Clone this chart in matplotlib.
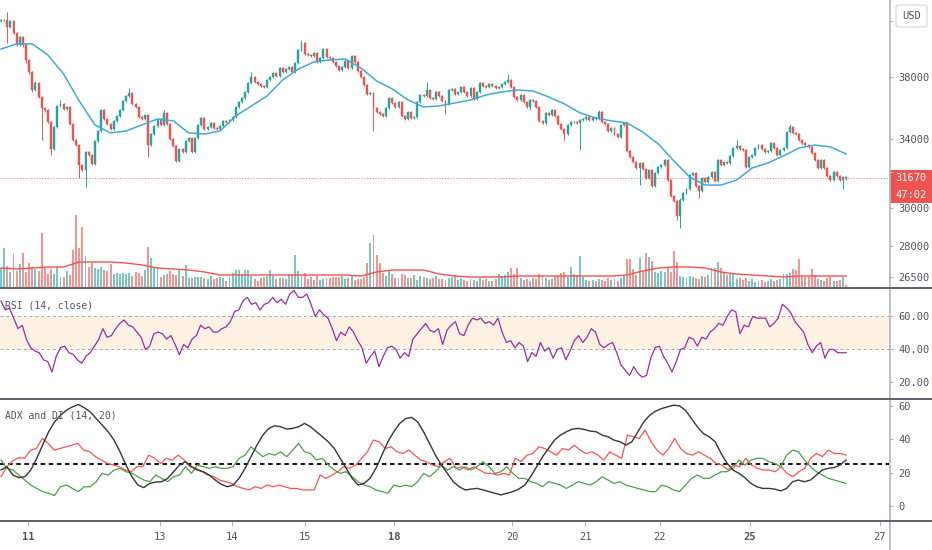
import matplotlib
matplotlib.use('Agg')
import matplotlib.pyplot as plt
import numpy as np
from matplotlib.lines import Line2D
from matplotlib.patches import Rectangle, FancyBboxPatch

plt.rcParams['font.family'] = ['DejaVu Sans Mono', 'DejaVu Sans']

# hourly candles
opens = [42030, 42110, 42110, 41580, 42030, 41140, 40255, 40840, 40255, 39180,
         38340, 37120, 37590, 36660, 35940, 35810, 35040, 33380, 34730, 36070,
         36200, 35870, 36000, 34920, 33920, 33616, 32430, 32140, 33200, 33020,
         32490, 33860, 34480, 35810, 35230, 34920, 34600, 35110, 35425, 35810,
         36395, 36720, 36920, 36200, 36000, 35360, 35230, 35490, 33616, 34290,
         34790, 35230, 34854, 35620, 34920, 33980, 33560, 32660, 33380, 33200,
         33860, 34045, 33200, 34045, 34854, 35300, 34600, 34730, 34980, 34670,
         34600, 34790, 35110, 35040, 35170, 35360, 36000, 36330, 36590, 36990,
         37590, 38000, 37660, 37520, 37390, 37320, 37795, 38000, 38275, 38070,
         38620, 38340, 38550, 38690, 38340, 38970, 39890, 40400, 39600, 39530,
         39460, 39670, 39040, 39320, 39960, 39390, 39320, 39040, 38760, 38480,
         38690, 39110, 38620, 39460, 39040, 38410, 38000, 37455, 36850, 36920,
         35940, 35680, 35550, 35425, 35940, 36590, 36260, 36000, 36330, 35425,
         35230, 35680, 35300, 35360, 36330, 36787, 36720, 37120, 36590, 36525,
         36990, 36720, 36395, 36200, 37120, 37190, 36850, 36990, 37320, 36990,
         36720, 37255, 36525, 36990, 37590, 37390, 37320, 37520, 37390, 37255,
         37320, 37520, 37660, 37795, 37320, 36655, 36460, 36787, 36330, 36000,
         36460, 36395, 36000, 35110, 34980, 35620, 35490, 35810, 35425, 34920,
         34600, 34290, 34854, 35040, 35040, 34980, 35170, 35230, 35360, 35170,
         35300, 35230, 35680, 35040, 34920, 34480, 34670, 34290, 34105, 34854,
         34980, 33260, 32900, 32605, 32255, 32545, 32200, 31675, 32140, 31220,
         31965, 32315, 32430, 32720, 31560, 30665, 30395, 29580, 30450, 30830,
         31055, 31850, 31965, 31220, 30945, 31675, 31450, 31735, 32025, 31505,
         32720, 32430, 32605, 32545, 32960, 33440, 33560, 33380, 33320, 32315,
         32900, 33020, 33440, 33616, 33380, 33200, 33260, 33740, 33440, 33020,
         33320, 33440, 34415, 34730, 34355, 34290, 33920, 33740, 33616, 33500,
         33140, 32720, 32255, 32720, 32255, 31790, 31560, 32025, 31790, 31560,
         31735]
highs = [42190, 42200, 42730, 42110, 42110, 41220, 40920, 40920, 40330, 39260,
         38420, 37700, 37670, 36740, 36020, 35890, 35120, 34810, 36150, 36460,
         36280, 36080, 36080, 35000, 34000, 33700, 32510, 33280, 33280, 33100,
         33940, 34560, 35890, 35890, 35310, 35000, 35190, 35500, 35890, 36470,
         36800, 37250, 37000, 36280, 36080, 35440, 35570, 35570, 34370, 34870,
         35310, 35310, 35810, 35700, 35000, 34060, 33640, 33460, 33460, 33940,
         34130, 34130, 34130, 34940, 35380, 35380, 34810, 35060, 35060, 34750,
         34870, 35190, 35190, 35250, 35440, 36080, 36410, 36670, 37070, 37670,
         38340, 38080, 37740, 37600, 37470, 37880, 38080, 38360, 38360, 38700,
         38700, 38630, 38770, 38770, 39050, 39970, 40620, 40480, 39680, 39610,
         39750, 39750, 39400, 40040, 40040, 39470, 39400, 39120, 38840, 38770,
         39190, 39190, 39540, 39540, 39120, 38490, 38080, 37530, 37000, 37000,
         36020, 35760, 35630, 36020, 36670, 36670, 36340, 36410, 36410, 35500,
         35760, 35760, 35440, 36410, 36870, 36870, 37660, 37200, 36670, 37070,
         37070, 36800, 36470, 37200, 37270, 37270, 37070, 37400, 37400, 37070,
         37340, 37340, 37070, 37670, 37670, 37470, 37600, 37600, 37470, 37400,
         37600, 37740, 38210, 37880, 37400, 36740, 36870, 36870, 36410, 36540,
         36540, 36470, 36080, 35190, 35700, 35700, 35890, 35890, 35500, 35000,
         34680, 34940, 35120, 35120, 35120, 35250, 35310, 35440, 35440, 35380,
         35380, 35810, 35760, 35120, 35000, 34750, 34750, 34370, 34940, 35060,
         35060, 33340, 32980, 32680, 32620, 32620, 32280, 32220, 32220, 32040,
         32390, 32510, 32800, 32800, 31640, 30740, 30470, 30530, 30900, 31130,
         31930, 32040, 32040, 31300, 31750, 31750, 31810, 32100, 32100, 32800,
         32800, 32680, 32680, 33040, 33520, 33920, 33640, 33460, 33400, 32980,
         33100, 33520, 33700, 33700, 33460, 33340, 33820, 33820, 33520, 33400,
         33520, 34500, 34920, 34810, 34440, 34370, 34000, 33820, 33700, 33580,
         33220, 32800, 32800, 32800, 32330, 31870, 32100, 32100, 31870, 31810,
         31810]
lows = [41950, 42030, 40400, 41500, 41060, 40180, 40180, 40100, 39000, 38200,
        37000, 37040, 36580, 33920, 35700, 34950, 33020, 33300, 34650, 35990,
        35790, 35790, 34840, 33840, 33540, 31675, 32060, 31165, 32940, 32410,
        32410, 33780, 34400, 35150, 34840, 34520, 34520, 35030, 35350, 35730,
        36310, 36640, 36120, 35920, 35280, 35150, 35150, 32900, 33540, 34210,
        34710, 34770, 34770, 34840, 33900, 33480, 32600, 32580, 33120, 33120,
        33780, 33120, 33120, 33970, 34770, 34520, 34520, 34650, 34590, 34520,
        34520, 34710, 34960, 34960, 35090, 35280, 35920, 36250, 36510, 36910,
        37510, 37580, 37440, 37310, 37240, 37240, 37710, 37920, 37990, 37990,
        38260, 38260, 38470, 38260, 38260, 38890, 39810, 39520, 39450, 39380,
        39380, 38960, 38960, 39240, 39310, 39240, 38960, 38680, 38400, 38400,
        38610, 38540, 38540, 38960, 38330, 37920, 37370, 36770, 36770, 34480,
        35600, 35470, 35350, 35350, 35860, 36180, 35920, 35920, 35350, 35150,
        35150, 35220, 35220, 35280, 36250, 36640, 36640, 36510, 36440, 36440,
        36640, 36310, 35550, 36120, 37040, 36770, 36770, 36910, 36910, 36640,
        36640, 36440, 36440, 36910, 37310, 37240, 37240, 37310, 37170, 37170,
        37240, 37440, 37580, 37240, 36570, 36380, 36380, 36250, 35920, 35810,
        36310, 35920, 35030, 34900, 34900, 35410, 35410, 35350, 34840, 34520,
        33920, 34210, 34770, 34960, 34900, 33320, 35090, 35150, 35090, 35090,
        35150, 35150, 34960, 34840, 34400, 34400, 34210, 34020, 34020, 34770,
        33180, 32820, 32520, 32170, 31277, 32120, 31600, 31600, 31140, 31140,
        31890, 32240, 32350, 31480, 30590, 30320, 29370, 28930, 30370, 30750,
        30980, 31770, 31140, 30560, 30870, 31370, 31370, 31660, 31430, 31430,
        32350, 32350, 32470, 32470, 32880, 33360, 33300, 33240, 32240, 32240,
        32820, 32940, 33360, 33300, 33120, 33120, 33180, 33360, 32940, 32940,
        33240, 33360, 34330, 34270, 34210, 33840, 33660, 33540, 33420, 33060,
        32640, 32170, 32170, 32170, 31710, 31480, 31480, 31710, 31480, 31060,
        31590]
closes = [42110, 42110, 41580, 42030, 41140, 40255, 40840, 40255, 39180, 38340,
          37120, 37590, 36660, 35940, 35810, 35040, 33380, 34730, 36070, 36200,
          35870, 36000, 34920, 33920, 33616, 32430, 32140, 33200, 33020, 32490,
          33860, 34480, 35810, 35230, 34920, 34600, 35110, 35425, 35810, 36395,
          36720, 36920, 36200, 36000, 35360, 35230, 35490, 33616, 34290, 34790,
          35230, 34854, 35620, 34920, 33980, 33560, 32660, 33380, 33200, 33860,
          34045, 33200, 34045, 34854, 35300, 34600, 34730, 34980, 34670, 34600,
          34790, 35110, 35040, 35170, 35360, 36000, 36330, 36590, 36990, 37590,
          38000, 37660, 37520, 37390, 37320, 37795, 38000, 38275, 38070, 38620,
          38340, 38550, 38690, 38340, 38970, 39890, 40400, 39600, 39530, 39460,
          39670, 39040, 39320, 39960, 39390, 39320, 39040, 38760, 38480, 38690,
          39110, 38620, 39460, 39040, 38410, 38000, 37455, 36850, 36920, 35940,
          35680, 35550, 35425, 35940, 36590, 36260, 36000, 36330, 35425, 35230,
          35680, 35300, 35360, 36330, 36787, 36720, 37120, 36590, 36525, 36990,
          36720, 36395, 36200, 37120, 37190, 36850, 36990, 37320, 36990, 36720,
          37255, 36525, 36990, 37590, 37390, 37320, 37520, 37390, 37255, 37320,
          37520, 37660, 37795, 37320, 36655, 36460, 36787, 36330, 36000, 36460,
          36395, 36000, 35110, 34980, 35620, 35490, 35810, 35425, 34920, 34600,
          34290, 34854, 35040, 35040, 34980, 35170, 35230, 35360, 35170, 35300,
          35230, 35680, 35040, 34920, 34480, 34670, 34290, 34105, 34854, 34980,
          33260, 32900, 32605, 32255, 32545, 32200, 31675, 32140, 31220, 31965,
          32315, 32430, 32720, 31560, 30665, 30395, 29580, 30450, 30830, 31055,
          31850, 31965, 31220, 30945, 31675, 31450, 31735, 32025, 31505, 32720,
          32430, 32605, 32545, 32960, 33440, 33560, 33380, 33320, 32315, 32900,
          33020, 33440, 33616, 33380, 33200, 33260, 33740, 33440, 33020, 33320,
          33440, 34415, 34730, 34355, 34290, 33920, 33740, 33616, 33500, 33140,
          32720, 32255, 32720, 32255, 31790, 31560, 32025, 31790, 31560, 31735,
          31670]
volumes = [190, 390, 210, 150, 330, 160, 230, 340, 150, 240,
           200, 180, 160, 540, 190, 130, 180, 130, 200, 100,
           100, 160, 120, 370, 720, 390, 600, 310, 200, 240,
           190, 180, 200, 170, 160, 230, 130, 140, 130, 140,
           130, 140, 110, 150, 140, 110, 170, 400, 290, 200,
           200, 100, 120, 130, 160, 130, 120, 170, 110, 220,
           90, 90, 100, 100, 100, 90, 80, 110, 80, 90,
           100, 90, 60, 100, 140, 170, 170, 130, 170, 170,
           110, 80, 60, 90, 100, 110, 170, 110, 80, 90,
           90, 80, 120, 130, 320, 160, 120, 140, 80, 100,
           70, 110, 70, 80, 90, 90, 100, 100, 100, 110,
           80, 90, 110, 70, 80, 80, 100, 240, 440, 520,
           320, 240, 140, 110, 170, 130, 90, 90, 130, 120,
           90, 90, 120, 70, 110, 100, 90, 80, 90, 110,
           80, 80, 70, 90, 100, 120, 70, 90, 70, 60,
           80, 70, 60, 90, 70, 80, 60, 60, 80, 130,
           110, 120, 150, 190, 130, 190, 90, 70, 80, 60,
           90, 80, 130, 120, 90, 70, 80, 100, 110, 140,
           150, 100, 200, 130, 120, 310, 100, 70, 60, 70,
           60, 80, 70, 60, 90, 70, 80, 60, 90, 110,
           280, 280, 180, 120, 290, 160, 340, 300, 260, 150,
           140, 160, 150, 190, 150, 360, 250, 110, 100, 90,
           110, 100, 90, 80, 110, 100, 120, 190, 190, 250,
           190, 140, 120, 130, 130, 80, 90, 70, 90, 60,
           80, 50, 60, 70, 50, 60, 80, 60, 70, 80,
           130, 130, 140, 180, 170, 280, 110, 100, 100, 180,
           120, 80, 70, 60, 90, 100, 60, 60, 70, 100,
           20]

# moving averages, read every 5th bar
vol_ma = [190, 180, 190, 200, 200, 250, 250, 250, 240, 220,
          190, 180, 170, 150, 120, 120, 120, 120, 120, 120,
          120, 120, 120, 110, 150, 170, 170, 170, 130, 110,
          100, 100, 100, 110, 110, 110, 110, 110, 110, 110,
          120, 160, 190, 200, 200, 190, 150, 130, 120, 110,
          100, 110, 110, 110, 110]
price_ma = [39960, 40330, 40330, 39530, 38205, 36395, 34854, 34355, 34480, 34854,
            35230, 35110, 34355, 34290, 34480, 35425, 36070, 36720, 37795, 38550,
            39040, 39180, 39250, 38620, 37725, 37190, 36460, 36000, 36070, 36260,
            36460, 36787, 36990, 37120, 37050, 36655, 36200, 35620, 35300, 35110,
            34980, 34415, 33680, 32660, 31735, 31277, 31277, 31560, 32255, 32545,
            32960, 33440, 33616, 33500, 33080]

rsi = [69.5, 64, 65, 59, 52.6, 54.7, 46, 41, 39, 38, 33.7, 32.6, 26.3, 35.8, 41, 42,
       38, 37, 33.7, 31.6, 35.8, 38, 42, 46, 52.6, 47.4, 48.4, 52.6, 55.8, 57.9, 54.7,
       53.7, 50.5, 47.4, 40, 42, 49.5, 50.5, 49.5, 46.3, 48.4, 43, 36.8, 43, 41, 46.3,
       48.4, 54.7, 52.6, 53.7, 50.5, 50.5, 52.6, 53.7, 56.8, 63, 64, 69.5, 71.6, 67.4,
       68.4, 64, 67.4, 68.4, 71.6, 68.4, 70.5, 67.4, 73.7, 75.8, 71.6, 71.6, 73.7, 67.4,
       60, 64, 61, 59, 52.6, 45.3, 50.5, 48.4, 53.7, 50.5, 45.3, 41, 31.6, 35.8, 39,
       29.5, 35.8, 41, 42, 40, 34.7, 38, 35.8, 46.3, 49.5, 52.6, 55.8, 51.6, 50.5, 52.6,
       43, 51.6, 54.7, 56.8, 49.5, 48.4, 54.7, 59, 57.9, 59, 55.8, 56.8, 54.7, 59, 50.5,
       44.2, 45.3, 41, 44.2, 42, 32.6, 38, 35.8, 44.2, 39, 41, 34.7, 40, 41, 33.7, 39,
       45.3, 48.4, 44.2, 47.4, 52.6, 50.5, 43, 41, 43, 44.2, 38, 30.5, 27.4, 24.2, 29.5,
       25.3, 23.2, 24.2, 34.7, 41, 42, 35.8, 31.6, 26.3, 32.6, 40, 41, 47.4, 46.3, 42,
       47.4, 46.3, 50.5, 52.6, 55.8, 54.7, 60, 64, 63, 49.5, 54.7, 53.7, 60, 59, 59, 59,
       53.7, 55.8, 59, 67.4, 65.3, 62, 56.8, 53.7, 50.5, 43, 38, 42, 44.2, 34.7, 40, 40,
       38, 38, 38]

adx = [21.5, 23.5, 18.5, 17, 17.5, 21.5, 28.5, 36.4, 44.4, 50.3, 54.3, 57.3, 59.3,
       60.7, 58.7, 56.3, 52.3, 48.4, 44.4, 39.4, 32.4, 24.5, 17.5, 12.5, 11, 13.5,
       14.3, 14.5, 16.5, 20.5, 24.5, 26.5, 23.5, 21.5, 20.5, 18.5, 15.5, 13, 11.5,
       12.5, 16.5, 22.5, 29.5, 36.4, 42.4, 46.4, 48, 47.4, 46, 46.4, 47.4, 49.4, 47.4,
       44.4, 41.4, 38.4, 34.4, 28.5, 22.5, 16.5, 12.5, 13.5, 16.5, 22.5, 30.4, 38.4,
       44.4, 49.4, 52.3, 53, 50.3, 44.4, 37.4, 30.4, 24.5, 19.5, 14.5, 11.5, 9.6, 10.1,
       10.5, 9.6, 8.6, 7.6, 6.6, 7.6, 8.6, 10.1, 12.5, 17.5, 23.5, 29.5, 34.4, 39.4,
       42.4, 44.4, 46, 46.4, 45.8, 44.8, 44.4, 42.4, 41.4, 39.4, 38.4, 36.4, 38.4, 44.4,
       50.3, 54.3, 56.7, 58.3, 59.3, 60.3, 59.9, 57.3, 52.3, 47.4, 43.4, 41.4, 38.4,
       31.4, 25.5, 21.5, 19.5, 16.9, 13.5, 11.5, 10.5, 10.5, 10.1, 9, 10.5, 14.5, 15.5,
       14.5, 15.5, 18.5, 21.5, 22.5, 23, 24.5, 27.5]
minus_di = [17.5, 23.5, 27, 28.9, 28.5, 33.4, 34.4, 40.4, 37.4, 33.4, 34.4, 35.4, 36.4,
            37.4, 33.4, 32.4, 29.5, 27.5, 25.5, 24.5, 23.5, 21.5, 20.5, 23.5, 23.5,
            30.4, 28.5, 25.5, 28.5, 27.5, 30.4, 27.5, 23.5, 22.5, 20.5, 18.5, 17.5,
            15.5, 14.5, 13.5, 11.5, 10.5, 9.6, 11.5, 10.5, 12.5, 11.5, 12.5, 11.5, 10.5,
            10.5, 9.6, 9.6, 9.6, 18.5, 16.5, 18.5, 20.5, 23.5, 22.5, 24.5, 28.5, 32.4,
            39.4, 38.4, 34.4, 35.4, 32.4, 31.4, 33.4, 30.4, 27.5, 26.5, 24.5, 23.5, 26.5,
            28.5, 22.5, 23.5, 21.5, 23.5, 21.5, 19.5, 19.5, 18.5, 19.5, 18.5, 28.5, 26.5,
            30.4, 31.4, 35.4, 34.4, 32.4, 30.4, 34.4, 33.4, 36.4, 33.4, 31.4, 32.4, 30.4,
            27.5, 32.4, 30.4, 28.5, 42.4, 41.4, 40.4, 45.4, 38.4, 33.4, 30.4, 34.4, 40.4,
            34.4, 31.4, 30.4, 32.4, 30.4, 28.5, 25.5, 24.5, 21.5, 24.5, 23.5, 28.5, 24.5,
            22.5, 21.5, 21.5, 20.5, 23.5, 19.5, 17.5, 20.5, 22.5, 28.5, 31.4, 29.5, 33.4,
            31.4, 31.4, 30.4]
plus_di = [27.5, 22.5, 21.5, 18.5, 15.5, 12.5, 10.5, 8.6, 7.6, 6.2, 11.5, 12.5, 10.5,
           8.6, 11.5, 11.5, 14.5, 19.5, 18.5, 21.5, 22.5, 20.5, 19.5, 17.5, 15.5, 14.5,
           18.5, 16.5, 14.5, 17.5, 18.5, 23.5, 19.5, 24.5, 23.5, 22.5, 23.5, 22.5, 22.5,
           23.5, 28.5, 30.4, 35.4, 32.4, 29.5, 31.4, 30.4, 32.4, 29.5, 33.4, 37.4, 32.4,
           31.4, 27.5, 28.5, 24.5, 21.5, 19.5, 20.5, 17.5, 14.5, 12.5, 11.5, 9.6, 8.6,
           7.6, 12.5, 11.5, 12.5, 11.5, 14.5, 19.5, 17.5, 20.5, 24.5, 21.5, 23.5, 21.5,
           23.5, 21.5, 23.5, 26.5, 23.5, 19.5, 20.5, 23.5, 19.5, 16.5, 16.5, 14.5, 13.5,
           11.5, 14.5, 13.5, 12.5, 10.5, 12.5, 14.5, 13.5, 12.5, 14.5, 17.5, 15.5, 13.5,
           14.5, 12.5, 11.5, 10.5, 9.6, 8.6, 8.6, 12.5, 11.5, 9.6, 8.6, 12.5, 16.5, 18.5,
           16.5, 16.5, 18.5, 20.5, 20.5, 22.5, 27.5, 24.5, 27.5, 28.5, 28.5, 26.5, 25.5,
           23.5, 30.4, 33.4, 32.4, 27.5, 23.5, 20.5, 18.5, 16.5, 15.5, 14.5, 13.5]

day_index = [8.6, 50.8, 73.8, 97.1, 125.6, 163.3, 186.6, 210.5, 239.3, 280.8]
day_labels = ['11', '13', '14', '15', '18', '20', '21', '22', '25', '27']
week_starts = ['11', '18', '25']
price_ticks = [26500, 28000, 30000, 32000, 34000, 38000, 42000]
hidden_ticks = [32000, 42000]  # covered by the price badge and the USD badge
last_price = 31670
countdown = '47:02'

UP = '#26a69a'
DOWN = '#ef5350'
TXT = '#50535e'
AXIS = '#b2b5be'
SEP = '#5d606b'

W, H = 932, 550
fig = plt.figure(figsize=(W / 100, H / 100), dpi=100)
fig.patch.set_facecolor('white')


def pane(top, bottom, right=889):
    return [0, 1 - bottom / H, right / W, (bottom - top) / H]


ax = fig.add_axes(pane(0, 287))
ax_rsi = fig.add_axes(pane(288, 398))
ax_adx = fig.add_axes(pane(399, 520))

n = len(closes)
idx = np.arange(n)
o = np.array(opens)
c = np.array(closes)
colors = np.where(c >= o, UP, DOWN)

# volume overlay on a hidden twin axis
ax_v = ax.twinx()
ax_v.bar(idx, volumes, width=0.62, color=colors, alpha=0.62, lw=0)
ax_v.plot(np.arange(0, n, 5), vol_ma, color=DOWN, lw=1.0)
ax_v.set_ylim(0, 2870)
ax_v.axis('off')
ax_v.patch.set_visible(False)
ax.set_zorder(ax_v.get_zorder() + 1)
ax.patch.set_visible(False)

# candles
ax.vlines(idx, lows, highs, colors=colors, lw=0.7, zorder=2)
ax.bar(idx, np.abs(c - o), bottom=np.minimum(o, c), width=0.62, color=colors,
       edgecolor=colors, lw=0.3, zorder=3)
ax.plot(np.arange(0, n, 5), price_ma, color='#42a8da', lw=1.1, zorder=4)
ax.axhline(last_price, color=DOWN, lw=0.8, ls=(0, (1, 1.5)), alpha=0.7, zorder=1)
ax.set_yscale('log')
ax.set_ylim(26030, 43650)
ax.set_yticks(price_ticks,
              labels=['' if p in hidden_ticks else str(p) for p in price_ticks])
ax.minorticks_off()

# RSI pane
rsi_x = np.linspace(0, n - 1, len(rsi))
ax_rsi.axhspan(40, 60, color='#fff2e3', lw=0)
for lvl in (40, 60):
    ax_rsi.axhline(lvl, color='#a3a6af', lw=0.7, ls=(0, (3, 3)))
ax_rsi.plot(rsi_x, rsi, color='#9a2ca5', lw=0.9)
ax_rsi.set_ylim(10.5, 77.3)
ax_rsi.set_yticks([20, 40, 60], labels=['20.00', '40.00', '60.00'])

# ADX pane
ax_adx.axhline(25, color='black', lw=1.3, ls=(0, (2.5, 2)))
ax_adx.plot(np.linspace(0, n - 1, len(minus_di)), minus_di, color='#ff5252', lw=0.9)
ax_adx.plot(np.linspace(0, n - 1, len(plus_di)), plus_di, color='#4c9f4c', lw=0.9)
ax_adx.plot(np.linspace(0, n - 1, len(adx)), adx, color='#363636', lw=1.0)
ax_adx.set_ylim(-8.4, 64)
ax_adx.set_yticks([0, 20, 40, 60], labels=['0', '20', '40', '60'])
ax_adx.set_xticks(day_index, labels=day_labels)
for lab in ax_adx.get_xticklabels():
    if lab.get_text() in week_starts:
        lab.set_fontweight('bold')
ax_adx.tick_params(axis='x', direction='out', length=4, width=0.8, color=AXIS,
                   labelsize=7.5, labelcolor=TXT, pad=5)

for a in (ax, ax_rsi, ax_adx):
    a.set_xlim(-0.32, 283.7)
    a.yaxis.tick_right()
    a.tick_params(axis='y', direction='out', length=3, width=0.8, color=AXIS,
                  labelsize=7.5, labelcolor=TXT, pad=4)
    for s in a.spines.values():
        s.set_visible(False)
for a in (ax, ax_rsi):
    a.set_xticks([])

# pane titles
fig.text(5 / W, 1 - 306 / H, 'RSI (14, close)', fontsize=7, color=TXT, va='center')
fig.text(5 / W, 1 - 416 / H, 'ADX and DI (14, 20)', fontsize=7, color=TXT, va='center')

# frame lines
fig.add_artist(Line2D([889.5 / W] * 2, [0, 1], color=AXIS, lw=1.2))
for y in (287.5, 398.5, 520.5):
    fig.add_artist(Line2D([0, 1], [1 - y / H] * 2, color=SEP, lw=1.4))

# last price and countdown labels on the price scale
y_last = fig.transFigure.inverted().transform(ax.transData.transform((0, last_price)))[1]
bh = 17 / H
fig.add_artist(Rectangle((890 / W, y_last - bh / 2), 42 / W, bh, color=DOWN, lw=0))
fig.text(911 / W, y_last, str(last_price), color='white', fontsize=7.5,
         ha='center', va='center')
fig.add_artist(Rectangle((890 / W, y_last - bh / 2 - 16 / H), 42 / W, 16 / H,
                         color=DOWN, lw=0))
fig.text(911 / W, y_last - bh / 2 - 8 / H, countdown, color='white', fontsize=7.5,
         ha='center', va='center')

# currency badge
fig.add_artist(FancyBboxPatch((896 / W, 1 - 27 / H), 31 / W, 22 / H,
                              boxstyle='round,pad=0,rounding_size=0.004',
                              facecolor='white', edgecolor='#d1d4dc', lw=0.8))
fig.text(911.5 / W, 1 - 16 / H, 'USD', color=TXT, fontsize=7.5, ha='center', va='center')

fig.savefig('out.png', dpi=100)
